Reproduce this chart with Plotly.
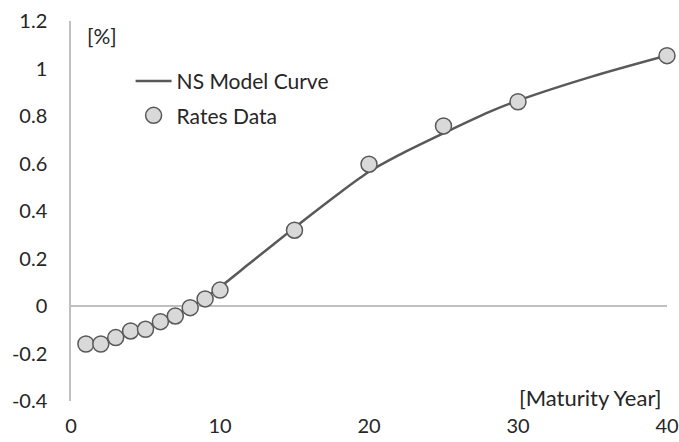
import plotly.graph_objects as go

# rates data (maturity in years, rate in %)
maturity = [1, 2, 3, 4, 5, 6, 7, 8, 9, 10, 15, 20, 25, 30, 40]
rates = [-0.16, -0.16, -0.133, -0.105, -0.098, -0.066, -0.042, -0.007, 0.03, 0.067,
         0.319, 0.597, 0.758, 0.86, 1.054]

# fitted NS model curve
curve_x = [1, 2, 3, 4, 5, 6, 7, 8, 9, 10, 12, 15, 18, 20, 22, 25, 28, 30, 35, 40]
curve_y = [-0.16, -0.15, -0.13, -0.11, -0.09, -0.065, -0.038, -0.005, 0.035, 0.08,
           0.18, 0.33, 0.475, 0.565, 0.635, 0.727, 0.815, 0.865, 0.967, 1.055]

x_ticks = [0, 10, 20, 30, 40]
y_ticks = [-0.4, -0.2, 0, 0.2, 0.4, 0.6, 0.8, 1, 1.2]
y_labels = ['-0.4', '-0.2', '0', '0.2', '0.4', '0.6', '0.8', '1', '1.2']

FONT = 'Lato'
TEXT = '#262626'
GRAY = '#595959'
AXIS = '#bfbfbf'

fig = go.Figure()
fig.add_trace(go.Scatter(
    name='NS Model Curve',
    x=curve_x, y=curve_y,
    mode='lines',
    line=dict(color=GRAY, width=2.5, shape='spline', smoothing=0.8),
    legendgroup='a',
    cliponaxis=False,
))
fig.add_trace(go.Scatter(
    name='Rates Data',
    x=maturity, y=rates,
    mode='markers',
    marker=dict(size=16, color='#d9d9d9', line=dict(color=GRAY, width=1.5)),
    legendgroup='b',
    cliponaxis=False,
))

fig.add_annotation(text='[%]', xref='paper', yref='paper', x=0.023, y=1.0,
                   xanchor='left', yanchor='top', showarrow=False,
                   font=dict(family=FONT, size=21, color=TEXT))
fig.add_annotation(text='[Maturity Year]', xref='paper', yref='paper', x=0.995, y=0.01,
                   xanchor='right', yanchor='middle', showarrow=False,
                   font=dict(family=FONT, size=22, color=TEXT))

fig.update_layout(
    width=679, height=442,
    margin=dict(l=71, r=12, t=21, b=41),
    plot_bgcolor='white', paper_bgcolor='white',
    font=dict(family=FONT, size=20, color=TEXT),
    showlegend=True,
    legend=dict(x=0.1, y=0.895, xanchor='left', yanchor='top',
                bgcolor='rgba(0,0,0,0)', font=dict(size=21),
                itemwidth=36, traceorder='grouped', tracegroupgap=4),
    xaxis=dict(range=[0, 40], tickvals=x_ticks, showgrid=False, zeroline=False,
               showline=False, ticks='', ticklabelstandoff=11, automargin=False,
               ticklabeloverflow='allow'),
    yaxis=dict(range=[-0.4, 1.2], tickvals=y_ticks, ticktext=y_labels,
               showgrid=False, zeroline=True, zerolinecolor=AXIS, zerolinewidth=1.5,
               showline=True, linecolor=AXIS, linewidth=1.5, ticks='',
               ticklabelstandoff=18, automargin=False, ticklabeloverflow='allow'),
)

# drop the browser's default body margin so the figure fills the window
fig.write_html("out.html", config={'displayModeBar': False},
               post_script="document.body.style.margin = '0';")
